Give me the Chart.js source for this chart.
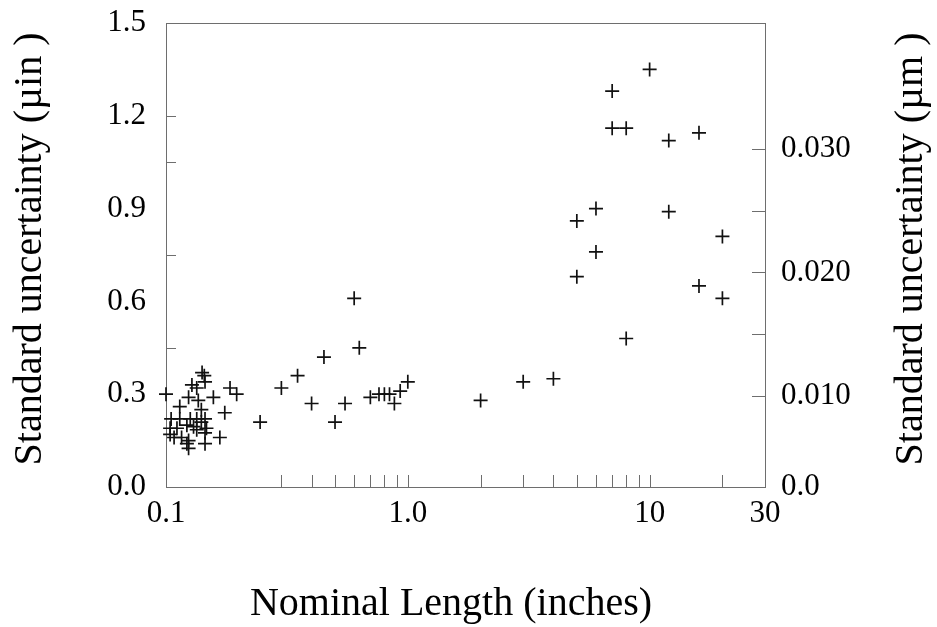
<!DOCTYPE html>
<html>
<head>
<meta charset="utf-8">
<script src="https://cdn.jsdelivr.net/npm/chart.js@4.4.1/dist/chart.umd.min.js"></script>
<style>
	html, body { margin: 0; padding: 0; background: #fff; }
	#wrap { width: 937px; height: 627px; position: relative; }
</style>
</head>
<body>
<div id="wrap"><canvas id="myChart"></canvas></div>
<script>
// nominal length, inches
const lengths = [
	0.100, 0.141, 0.144, 0.145, 0.128, 0.134, 0.184, 0.196, 0.157, 0.124,
	0.136, 0.114, 0.140, 0.175, 0.105, 0.114, 0.126, 0.134, 0.145, 0.104,
	0.111, 0.122, 0.130, 0.140, 0.147, 0.104, 0.108, 0.116, 0.124, 0.122,
	0.124, 0.145, 0.145, 0.167, 0.134,
	0.245, 0.30, 0.35, 0.40, 0.45, 0.50, 0.55, 0.60, 0.63, 0.70,
	0.76, 0.80, 0.84, 0.88, 0.93, 1.00,
	2.0, 3.0, 4.0, 5.0, 5.0, 6.0, 6.0, 7.0, 7.0, 8.0, 8.0,
	10, 12, 12, 16, 16, 20, 20,
];
// standard uncertainty, micro-inches
const uncertainty = [
	0.30, 0.37, 0.36, 0.34, 0.33, 0.32, 0.32, 0.30, 0.29, 0.29,
	0.28, 0.26, 0.25, 0.24, 0.22, 0.22, 0.22, 0.22, 0.22, 0.19,
	0.19, 0.20, 0.195, 0.21, 0.19, 0.17, 0.16, 0.16, 0.15, 0.14,
	0.125, 0.175, 0.14, 0.16, 0.185,
	0.21, 0.32, 0.36, 0.27, 0.42, 0.21, 0.27, 0.61, 0.45, 0.29,
	0.30, 0.30, 0.30, 0.27, 0.31, 0.34,
	0.28, 0.34, 0.35, 0.86, 0.68, 0.90, 0.76, 1.28, 1.16, 1.16, 0.48,
	1.35, 1.12, 0.89, 1.145, 0.65, 0.81, 0.61,
];

// ticks
const xTickValues = [0.1, 1, 10, 30];
const xTickLabels = ["0.1", "1.0", "10", "30"];
const xMinorTicks = [0.3, 0.4, 0.5, 0.6, 0.7, 0.8, 0.9, 1, 2, 3, 4, 5, 6, 7, 8, 9, 10, 20];
const yTickValues = [0, 0.3, 0.6, 0.9, 1.2, 1.5];
const yMinorTicks = [0.45, 0.75, 1.05, 1.2];
const umTickValues = [0.010, 0.020, 0.030];
const umTickLabels = ["0.010", "0.020", "0.030"];
const umMinorTicks = [0.010, 0.015, 0.020, 0.025, 0.030];
// right axis range as printed (its bottom is labelled 0.0)
const umMin = 0.00263;
const umMax = 0.0402;

const xTitle = "Nominal Length (inches)";
const yTitle = "Standard uncertainty (µin )";
const y2Title = "Standard uncertainty (µm )";

const serif = "'Liberation Serif', 'Times New Roman', serif";
const lineColor = "#6e6e6e";

// рамка, внутренние засечки и подписи осей
const frameTicks = {
	id: "frameTicks",
	beforeDatasetsDraw(chart) {
		const { ctx, chartArea } = chart;
		const { left, right, top, bottom } = chartArea;
		const x = chart.scales.x;
		const y = chart.scales.y;
		const y2 = chart.scales.y2;

		ctx.save();
		ctx.strokeStyle = lineColor;
		ctx.lineWidth = 1;
		ctx.strokeRect(left + 0.5, top + 0.5, right - left, bottom - top);

		ctx.beginPath();
		xMinorTicks.forEach((v) => {
			const px = Math.round(x.getPixelForValue(v)) + 0.5;
			ctx.moveTo(px, bottom);
			ctx.lineTo(px, bottom - 12);
		});
		yMinorTicks.forEach((v) => {
			const py = Math.round(y.getPixelForValue(v)) + 0.5;
			ctx.moveTo(left, py);
			ctx.lineTo(left + 10, py);
		});
		umMinorTicks.forEach((v) => {
			const py = Math.round(y2.getPixelForValue(v)) + 0.5;
			ctx.moveTo(right, py);
			ctx.lineTo(right - 13, py);
		});
		ctx.stroke();
		ctx.restore();
	},
	afterDraw(chart) {
		const { ctx } = chart;
		ctx.save();
		ctx.font = "40px " + serif;
		ctx.fillStyle = "#000";
		ctx.textAlign = "center";
		ctx.textBaseline = "alphabetic";

		ctx.fillText(xTitle, 451, 615);

		// both side titles read bottom-to-top
		ctx.save();
		ctx.translate(41, 249);
		ctx.rotate(-Math.PI / 2);
		ctx.fillText(yTitle, 0, 0);
		ctx.restore();

		ctx.translate(922, 249);
		ctx.rotate(-Math.PI / 2);
		ctx.fillText(y2Title, 0, 0);
		ctx.restore();
	},
};

function noEdgePadding(scale) {
	scale.paddingTop = 0;
	scale.paddingBottom = 0;
	scale.paddingLeft = 0;
	scale.paddingRight = 0;
}

const ctx = document.getElementById("myChart");

new Chart(ctx, {
	type: "scatter",
	data: {
		datasets: [
			{
				label: "",
				data: lengths.map((l, i) => ({ x: l, y: uncertainty[i] })),
				pointStyle: "cross",
				pointRadius: 7,
				pointHoverRadius: 7,
				borderWidth: 1.7,
				borderColor: "#111",
				backgroundColor: "#111",
				clip: false,
			},
		],
	},
	options: {
		responsive: true,
		maintainAspectRatio: false,
		animation: false,
		events: [],
		layout: { padding: { top: 23, left: 0, right: 0, bottom: 0 } },
		plugins: {
			legend: { display: false },
			tooltip: { enabled: false },
		},
		scales: {
			x: {
				type: "logarithmic",
				position: "bottom",
				min: 0.1,
				max: 30,
				grid: { display: false, drawTicks: false },
				border: { display: false },
				afterBuildTicks(scale) {
					scale.ticks = xTickValues.map((v) => ({ value: v }));
				},
				afterFit(scale) {
					scale.height = 140;
					noEdgePadding(scale);
				},
				ticks: {
					autoSkip: false,
					maxRotation: 0,
					padding: 8,
					color: "#000",
					font: { family: serif, size: 31 },
					callback: (v, i) => xTickLabels[i],
				},
			},
			y: {
				type: "linear",
				position: "left",
				min: 0,
				max: 1.5,
				grid: { display: false, drawTicks: false },
				border: { display: false },
				afterBuildTicks(scale) {
					scale.ticks = yTickValues.map((v) => ({ value: v }));
				},
				afterFit(scale) {
					scale.width = 166;
					noEdgePadding(scale);
				},
				ticks: {
					padding: 20,
					color: "#000",
					font: { family: serif, size: 31 },
					callback: (v) => v.toFixed(1),
				},
			},
			y2: {
				type: "linear",
				position: "right",
				min: umMin,
				max: umMax,
				grid: { display: false, drawTicks: false },
				border: { display: false },
				afterBuildTicks(scale) {
					scale.ticks = [{ value: umMin }].concat(umTickValues.map((v) => ({ value: v })));
				},
				afterFit(scale) {
					scale.width = 172;
					noEdgePadding(scale);
				},
				ticks: {
					padding: 16,
					color: "#000",
					font: { family: serif, size: 31 },
					callback: (v, i) => (i === 0 ? "0.0" : umTickLabels[i - 1]),
				},
			},
		},
	},
	plugins: [frameTicks],
});
</script>
</body>
</html>
